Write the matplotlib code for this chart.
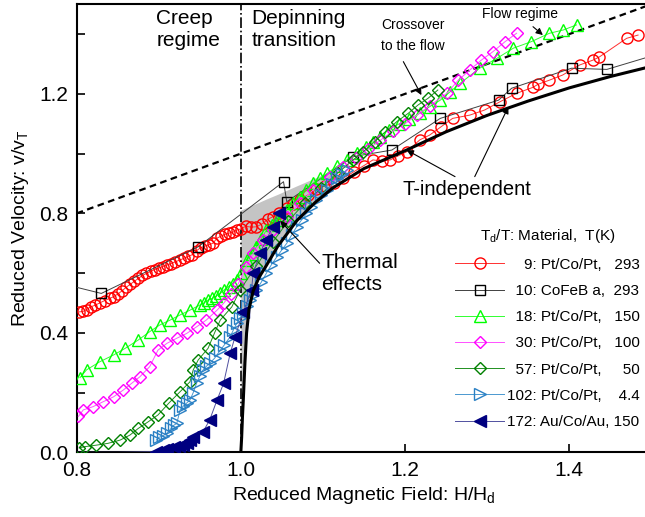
import numpy as np
import matplotlib.pyplot as plt
from matplotlib.ticker import MultipleLocator, FormatStrFormatter

plt.rcParams['font.family'] = ['Liberation Sans', 'DejaVu Sans']
plt.rcParams['mathtext.fontset'] = 'custom'
plt.rcParams['mathtext.rm'] = 'Liberation Sans'
plt.rcParams['mathtext.it'] = 'Liberation Sans:italic'

# 9: Pt/Co/Pt, 293 K
red_x = [0.803, 0.808, 0.812, 0.817, 0.822, 0.828, 0.834, 0.840, 0.845, 0.850,
         0.855, 0.860, 0.865, 0.870, 0.875, 0.880, 0.885, 0.890, 0.895, 0.900,
         0.905, 0.910, 0.915, 0.920, 0.926, 0.931, 0.936, 0.941, 0.946, 0.951,
         0.956, 0.961, 0.966, 0.971, 0.976, 0.981, 0.986, 0.991, 0.995, 1.000,
         1.006, 1.012, 1.019, 1.026, 1.033, 1.039, 1.047, 1.056, 1.064, 1.072,
         1.082, 1.092, 1.102, 1.113, 1.125, 1.138, 1.150, 1.161, 1.172, 1.182,
         1.192, 1.202, 1.218, 1.230, 1.244, 1.258, 1.279, 1.297, 1.316, 1.336,
         1.356, 1.362, 1.376, 1.392, 1.413, 1.429, 1.437, 1.470, 1.484]
red_y = [0.470, 0.472, 0.478, 0.487, 0.492, 0.500, 0.508, 0.515, 0.521, 0.530,
         0.540, 0.552, 0.562, 0.572, 0.582, 0.592, 0.599, 0.606, 0.612, 0.617,
         0.622, 0.627, 0.632, 0.638, 0.644, 0.650, 0.656, 0.662, 0.675, 0.685,
         0.690, 0.695, 0.700, 0.717, 0.724, 0.730, 0.734, 0.738, 0.744, 0.748,
         0.757, 0.754, 0.755, 0.765, 0.780, 0.789, 0.800, 0.818, 0.832, 0.845,
         0.862, 0.880, 0.892, 0.901, 0.918, 0.940, 0.960, 0.979, 0.975, 0.979,
         0.993, 1.006, 1.046, 1.062, 1.090, 1.118, 1.129, 1.146, 1.174, 1.202,
         1.222, 1.232, 1.246, 1.263, 1.297, 1.313, 1.324, 1.386, 1.397]

# 10: CoFeB a, 293 K
sq_x = [0.780, 0.830, 0.948, 1.052, 1.056, 1.137, 1.184, 1.243, 1.314, 1.330, 1.403, 1.446, 1.520]
sq_y = [0.566, 0.532, 0.688, 0.906, 0.839, 0.990, 1.012, 1.118, 1.179, 1.219, 1.286, 1.282, 1.343]

# 18: Pt/Co/Pt, 150 K
g_x = [0.804, 0.812, 0.828, 0.845, 0.859, 0.875, 0.889, 0.901, 0.914, 0.926,
       0.938, 0.950, 0.955, 0.960, 0.965, 0.970, 0.975, 0.980, 0.985, 0.990,
       0.995, 1.000, 1.007, 1.013, 1.019, 1.025, 1.031, 1.038, 1.044, 1.050,
       1.056, 1.064, 1.072, 1.080, 1.088, 1.097, 1.105, 1.117, 1.129, 1.141,
       1.153, 1.161, 1.169, 1.180, 1.193, 1.205, 1.218, 1.230, 1.243, 1.255,
       1.267, 1.291, 1.312, 1.332, 1.354, 1.376, 1.393, 1.409]
g_y = [0.250, 0.276, 0.303, 0.326, 0.348, 0.376, 0.404, 0.426, 0.443, 0.460,
       0.476, 0.493, 0.500, 0.510, 0.515, 0.523, 0.532, 0.545, 0.555, 0.565,
       0.577, 0.600, 0.644, 0.665, 0.688, 0.715, 0.744, 0.762, 0.778, 0.795,
       0.811, 0.834, 0.856, 0.878, 0.901, 0.918, 0.934, 0.957, 0.979, 1.001,
       1.023, 1.040, 1.057, 1.080, 1.100, 1.115, 1.135, 1.157, 1.179, 1.207,
       1.235, 1.286, 1.319, 1.353, 1.375, 1.403, 1.414, 1.431]

# 30: Pt/Co/Pt, 100 K
m_x = [0.802, 0.808, 0.820, 0.832, 0.845, 0.857, 0.867, 0.877, 0.889, 0.899,
       0.910, 0.922, 0.934, 0.946, 0.958, 0.971, 0.979, 0.988, 0.997, 1.006,
       1.015, 1.027, 1.039, 1.056, 1.072, 1.088, 1.109, 1.125, 1.140, 1.155,
       1.170, 1.185, 1.200, 1.215, 1.230, 1.251, 1.265, 1.279, 1.293, 1.307,
       1.322, 1.336]
m_y = [0.120, 0.142, 0.153, 0.169, 0.186, 0.209, 0.231, 0.253, 0.287, 0.342,
       0.365, 0.382, 0.398, 0.420, 0.443, 0.476, 0.499, 0.530, 0.565, 0.620,
       0.666, 0.711, 0.744, 0.789, 0.834, 0.878, 0.923, 0.955, 0.985, 1.015,
       1.045, 1.075, 1.100, 1.130, 1.160, 1.202, 1.246, 1.280, 1.313, 1.341,
       1.375, 1.403]

# 57: Pt/Co/Pt, 50 K
dg_x = [0.803, 0.810, 0.824, 0.838, 0.853, 0.865, 0.875, 0.887, 0.899, 0.912,
        0.926, 0.938, 0.942, 0.948, 0.960, 0.968, 0.975, 0.989, 0.999, 1.019,
        1.039, 1.058, 1.078, 1.098, 1.118, 1.137, 1.149, 1.163, 1.176, 1.190,
        1.204, 1.216, 1.228, 1.240]
dg_y = [0.015, 0.019, 0.024, 0.030, 0.041, 0.058, 0.080, 0.102, 0.125, 0.164,
        0.203, 0.236, 0.276, 0.309, 0.348, 0.400, 0.443, 0.487, 0.543, 0.625,
        0.705, 0.775, 0.835, 0.885, 0.935, 0.979, 1.006, 1.040, 1.073, 1.107,
        1.135, 1.163, 1.185, 1.213]

# 102: Pt/Co/Pt, 4.4 K
b_x = [0.897, 0.900, 0.905, 0.910, 0.915, 0.918, 0.922, 0.926, 0.930, 0.934,
       0.938, 0.942, 0.946, 0.950, 0.954, 0.958, 0.962, 0.968, 0.975, 0.980,
       0.987, 0.991, 0.995, 0.999, 1.003, 1.007, 1.011, 1.015, 1.019, 1.025,
       1.031, 1.037, 1.044, 1.050, 1.056, 1.062, 1.068, 1.074, 1.080, 1.086,
       1.092, 1.098, 1.105, 1.111, 1.117, 1.123, 1.129]
b_y = [0.041, 0.050, 0.055, 0.064, 0.080, 0.090, 0.097, 0.142, 0.155, 0.165,
       0.175, 0.200, 0.231, 0.255, 0.276, 0.288, 0.298, 0.315, 0.342, 0.360,
       0.387, 0.410, 0.432, 0.450, 0.465, 0.490, 0.510, 0.527, 0.543, 0.570,
       0.599, 0.627, 0.655, 0.678, 0.700, 0.728, 0.755, 0.778, 0.800, 0.822,
       0.845, 0.862, 0.878, 0.898, 0.917, 0.932, 0.945]

# 172: Au/Co/Au, 150 K (first two points only carry the line along v = 0)
nv_x = [0.800, 0.850, 0.897, 0.905, 0.910, 0.918, 0.925, 0.930, 0.934, 0.938,
        0.942, 0.954, 0.962, 0.971, 0.979, 0.987, 0.993, 1.003, 1.013, 1.015,
        1.023, 1.031, 1.039, 1.046]
nv_y = [0.000, 0.000, 0.002, 0.008, 0.010, 0.019, 0.020, 0.025, 0.030, 0.040,
        0.052, 0.069, 0.108, 0.175, 0.231, 0.331, 0.387, 0.470, 0.543, 0.599,
        0.666, 0.711, 0.755, 0.800]

# T-independent depinning curve
ti_x = [1.000, 1.001, 1.002, 1.003, 1.005, 1.007, 1.010, 1.015, 1.022, 1.031,
        1.045, 1.068, 1.090, 1.112, 1.150, 1.202, 1.250, 1.300, 1.350, 1.400,
        1.450, 1.500]
ti_y = [0.000, 0.050, 0.120, 0.175, 0.300, 0.400, 0.480, 0.540, 0.585, 0.625,
        0.690, 0.775, 0.835, 0.885, 0.950, 1.012, 1.073, 1.128, 1.176, 1.220,
        1.258, 1.292]

# flow regime v = H
flow_x = [0.8, 1.5]
flow_y = [0.8, 1.5]

# shaded thermal region
shade_x = [1.000, 1.005, 1.010, 1.022, 1.031, 1.045, 1.068, 1.090, 1.113]
shade_lo = [0.000, 0.300, 0.480, 0.585, 0.625, 0.690, 0.775, 0.835, 0.886]
shade_hi = [0.811, 0.817, 0.823, 0.837, 0.848, 0.864, 0.892, 0.918, 0.945]

labels = ["    9: Pt/Co/Pt,   293",
          "  10: CoFeB a,  293",
          "  18: Pt/Co/Pt,   150",
          "  30: Pt/Co/Pt,   100",
          "  57: Pt/Co/Pt,     50",
          "102: Pt/Co/Pt,    4.4",
          "172: Au/Co/Au, 150"]

fig = plt.figure(figsize=(6.45, 5.17), dpi=100)
ax = fig.add_axes([0.1189, 0.1251, 0.8907, 0.8666])

ax.fill_between(shade_x, shade_lo, shade_hi, color='#c4c4c4', lw=0, zorder=1)
ax.plot(flow_x, flow_y, color='k', ls=(0, (3, 2)), lw=1.6, zorder=2)
ax.axvline(1.0, color='k', ls='-.', lw=1.2, zorder=2)

ax.plot(red_x, red_y, color='#ff3030', lw=0.7, marker='o', ms=8, mfc='none',
        mec='#ff0000', mew=1.0, label=labels[0], zorder=3)
ax.plot(sq_x, sq_y, color='#404040', lw=0.7, marker='s', ms=7, mfc='none',
        mec='k', mew=1.0, label=labels[1], zorder=3)
ax.plot(g_x, g_y, color='#30ff30', lw=0.7, marker='^', ms=9, mfc='none',
        mec='#00ff00', mew=1.0, label=labels[2], zorder=3)
ax.plot(m_x, m_y, color='#ff50ff', lw=0.7, marker='D', ms=6.5, mfc='none',
        mec='#ff00ff', mew=1.0, label=labels[3], zorder=3)
ax.plot(dg_x, dg_y, color='#209020', lw=0.7, marker='D', ms=6.5, mfc='none',
        mec='#008000', mew=1.0, label=labels[4], zorder=3)
ax.plot(b_x, b_y, color='#4a98d0', lw=0.7, marker='>', ms=9, mfc='none',
        mec='#2a80c4', mew=1.0, label=labels[5], zorder=3)
ax.plot(nv_x, nv_y, color='#5050a0', lw=0.7, marker='<', ms=9, mfc='#000080',
        mec='#000080', mew=1.0, markevery=slice(2, None), label=labels[6], zorder=3)

ax.plot(ti_x, ti_y, color='k', lw=2.2, zorder=4)

ax.set_xlim(0.8, 1.5)
ax.set_ylim(0.0, 1.5)
ax.xaxis.set_major_locator(MultipleLocator(0.2))
ax.xaxis.set_major_formatter(FormatStrFormatter('%.1f'))
ax.yaxis.set_major_locator(MultipleLocator(0.4))
ax.yaxis.set_minor_locator(MultipleLocator(0.2))
ax.yaxis.set_major_formatter(FormatStrFormatter('%.1f'))
ax.tick_params(which='both', direction='in', length=6, width=1.2, labelsize=15, pad=6)
for s in ax.spines.values():
    s.set_linewidth(1.5)

ax.set_xlabel(r"Reduced Magnetic Field: H/H$_\mathregular{d}$", fontsize=14, labelpad=4)
ax.set_ylabel(r"Reduced Velocity: v/v$_\mathregular{T}$", fontsize=14, labelpad=6)

ax.text(0.897, 1.483, "Creep\nregime", fontsize=15, va='top', ha='left')
ax.text(1.013, 1.483, "Depinning\ntransition", fontsize=15, va='top', ha='left')
ax.text(1.098, 0.668, "Thermal\neffects", fontsize=15, va='top', ha='left')
ax.text(1.275, 0.861, "T-independent", fontsize=14.5, va='baseline', ha='center')
ax.text(1.210, 1.454, "Crossover\nto the flow", fontsize=10, va='top', ha='center',
        linespacing=1.65)
ax.text(1.340, 1.453, "Flow regime", fontsize=10, va='baseline', ha='center')

arw = dict(arrowstyle='-|>', color='k', lw=0.8, mutation_scale=10, shrinkA=0, shrinkB=0)
ax.annotate("", xy=(1.220, 1.196), xytext=(1.198, 1.308), arrowprops=arw)
ax.annotate("", xy=(1.368, 1.397), xytext=(1.356, 1.425), arrowprops=arw)
ax.annotate("", xy=(1.202, 1.012), xytext=(1.261, 0.923), arrowprops=arw)
ax.annotate("", xy=(1.326, 1.157), xytext=(1.285, 0.923), arrowprops=arw)
ax.annotate("", xy=(1.048, 0.775), xytext=(1.096, 0.633), arrowprops=arw)

leg = ax.legend(loc='lower right', bbox_to_anchor=(0.994, 0.035), frameon=False,
                fontsize=11, title=r"T$_\mathregular{d}$/T: Material,  T(K)",
                title_fontsize=11, handlelength=3.2, handletextpad=0.2,
                labelspacing=0.8, borderpad=0, numpoints=1)

fig.savefig("out.png", dpi=100)
